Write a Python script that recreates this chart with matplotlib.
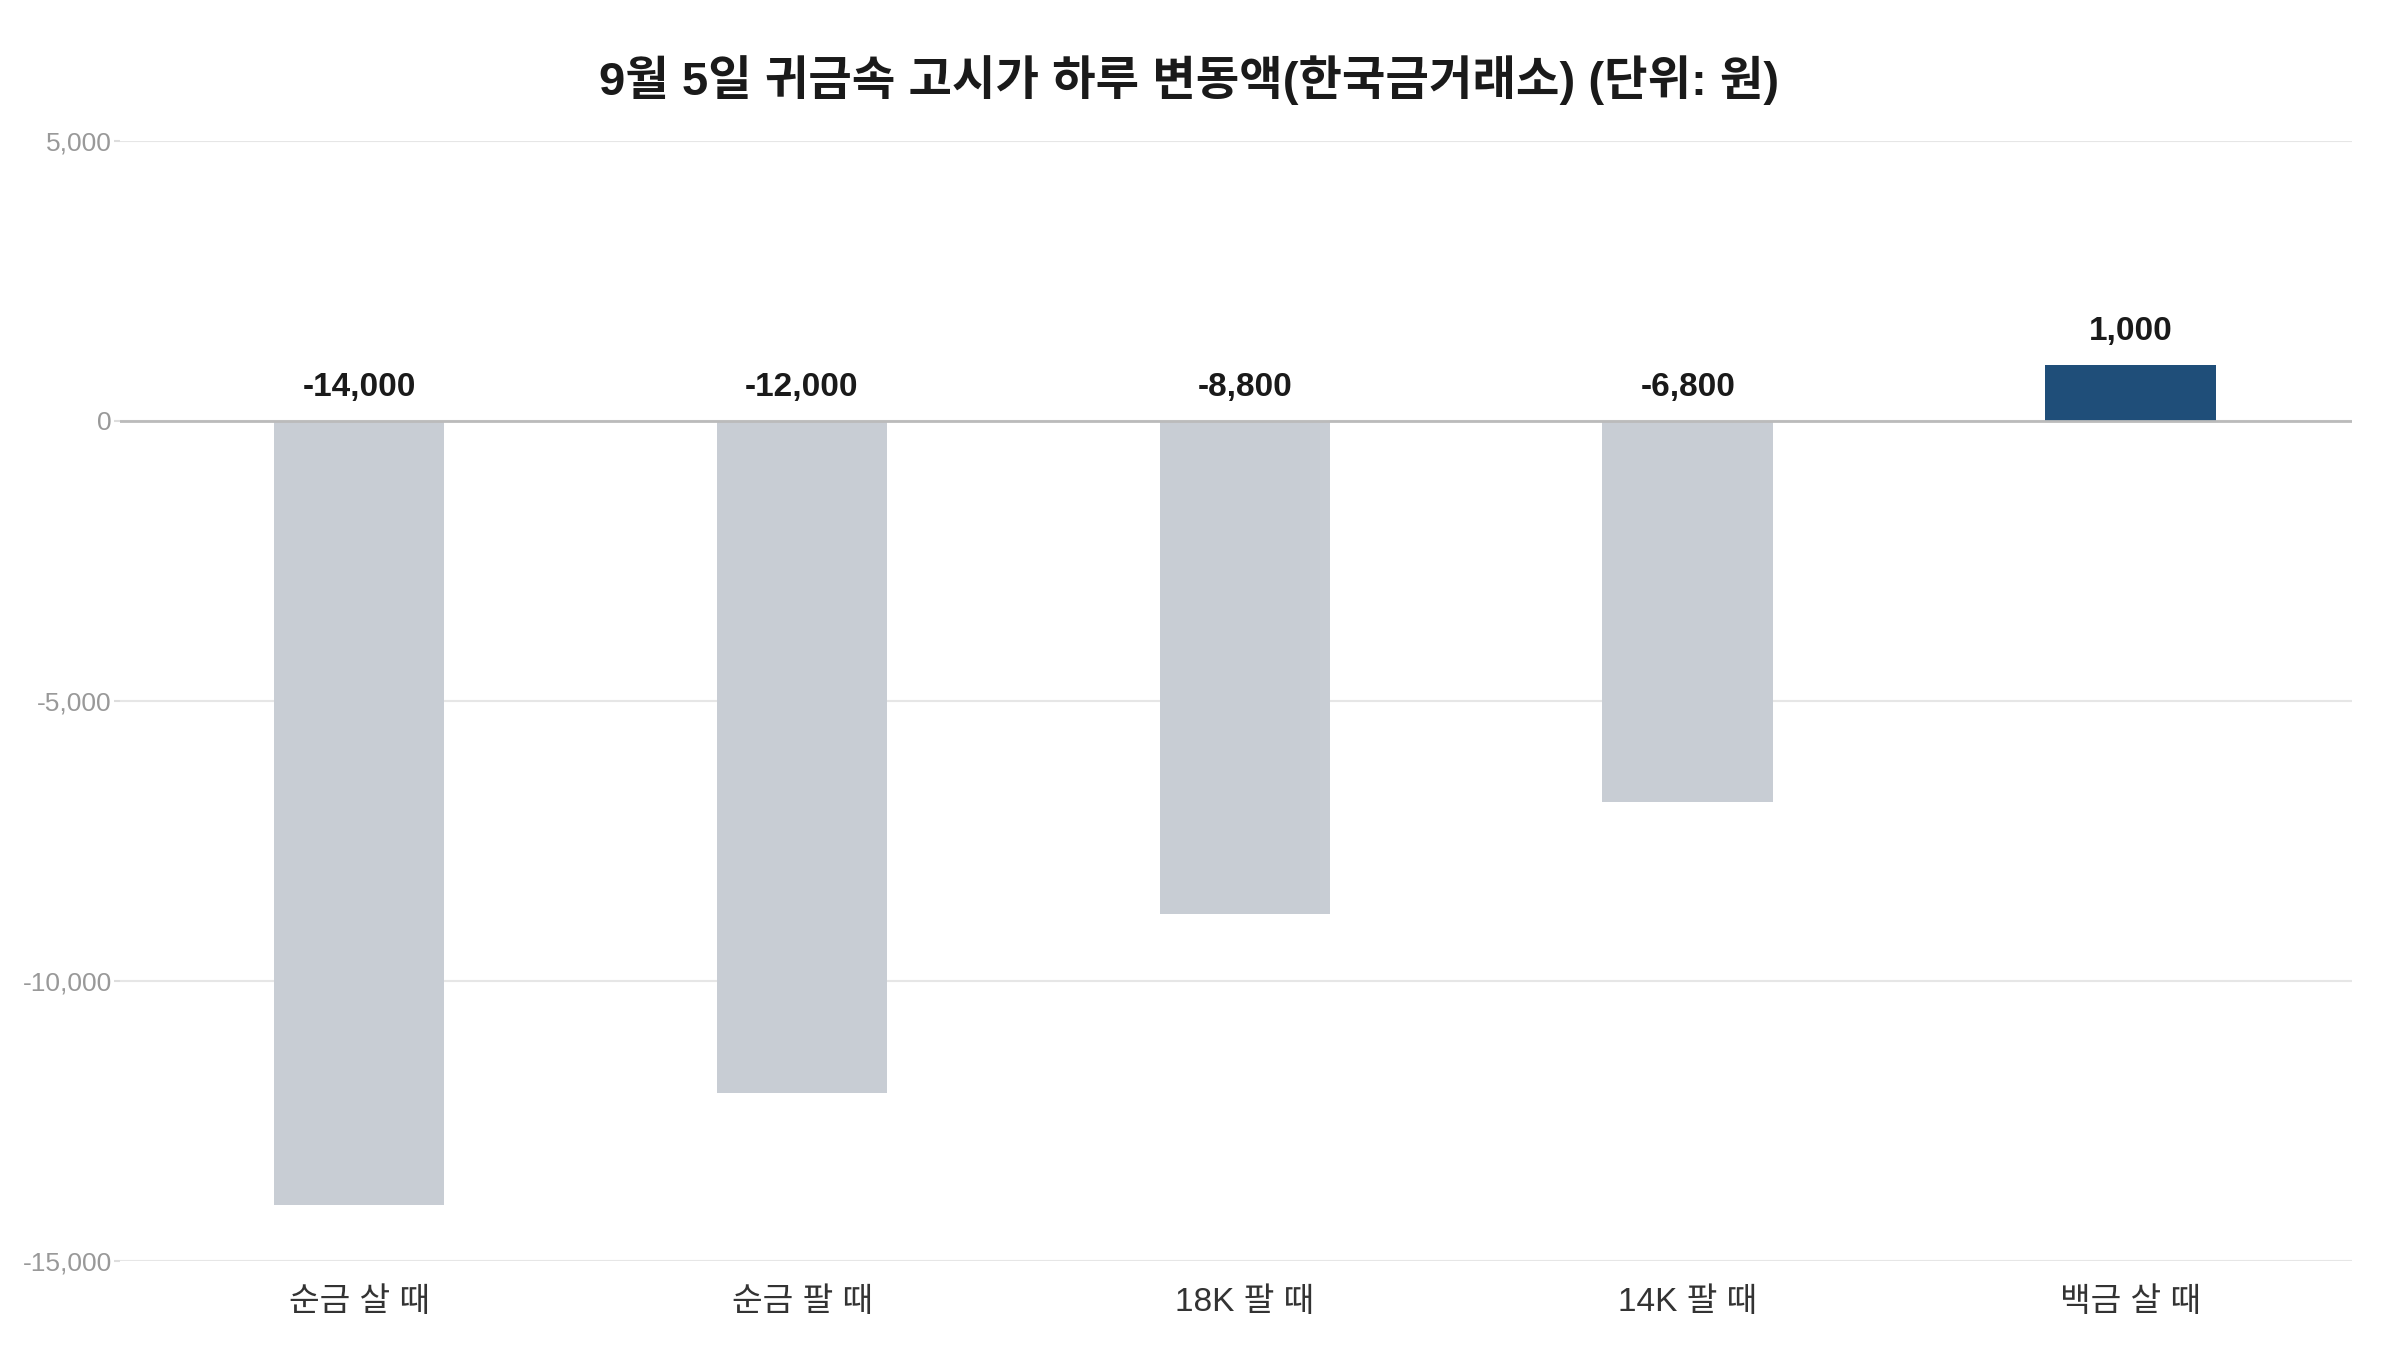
import matplotlib
matplotlib.use('Agg')
import matplotlib.pyplot as plt
import numpy as np

plt.rcParams['font.family'] = ['Liberation Sans', 'Noto Sans CJK KR', 'DejaVu Sans']

# data
categories = ['순금 살 때', '순금 팔 때', '18K 팔 때', '14K 팔 때', '백금 살 때']
changes = [-14000, -12000, -8800, -6800, 1000]
y_ticks = [5000, 0, -5000, -10000, -15000]

title = '9월 5일 귀금속 고시가 하루 변동액(한국금거래소) (단위: 원)'

fig = plt.figure(figsize=(24, 13.5), dpi=100)
ax = fig.add_axes([0.05, 0.066, 0.93, 0.8296])

colors = ['#1f4e79' if v > 0 else '#c8cdd4' for v in changes]
x = np.arange(len(categories))
ax.bar(x, changes, width=0.385, color=colors, zorder=3)

# value labels above zero / above bar top
for xi, v in zip(x, changes):
    ax.annotate(f'{v:,}', xy=(xi, max(v, 0)), xytext=(0, 24), textcoords='offset points',
                ha='center', va='center', fontsize=24, fontweight='bold', color='#1a1a1a')

ax.set_ylim(-15000, 5000)
ax.set_xlim(-0.54, 4.5)
ax.set_yticks(y_ticks)
ax.set_yticklabels([f'{t:,}' for t in y_ticks], fontsize=19, color='#999999')
ax.set_xticks(x)
ax.set_xticklabels(categories, fontsize=24, color='#333333')
ax.tick_params(axis='x', length=0, pad=19)
ax.tick_params(axis='y', length=4, color='#dddddd', width=1.5, pad=2)

ax.grid(axis='y', color='#e6e6e6', linewidth=1.5, zorder=0)
ax.axhline(0, color='#bbbbbb', linewidth=2, zorder=4)
for s in ax.spines.values():
    s.set_visible(False)

fig.suptitle(title, fontsize=34, fontweight='bold', color='#1a1a1a', x=0.4955, y=0.959)

fig.savefig('out.png', dpi=100, facecolor='white')
